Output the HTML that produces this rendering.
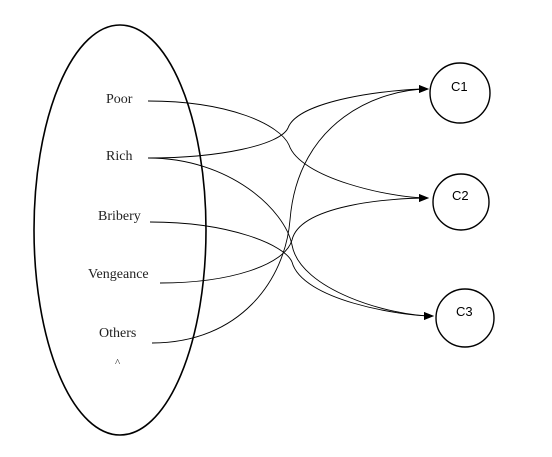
<!DOCTYPE html>
<html><head><style>
html,body{margin:0;padding:0;background:#fff;width:552px;height:457px;overflow:hidden}
</style></head><body>
<svg width="552" height="457" viewBox="0 0 552 457" xmlns="http://www.w3.org/2000/svg">
<defs><marker id="a" markerWidth="10" markerHeight="8" refX="9" refY="4" orient="auto" markerUnits="userSpaceOnUse"><path d="M0,0 L10,4 L0,8 Z" fill="#000"/></marker></defs>
<ellipse cx="120" cy="230" rx="86" ry="205" fill="none" stroke="#000" stroke-width="1.6"/>
<g font-family="Liberation Serif, serif" font-size="14" fill="#222">
<text x="106" y="103">Poor</text>
<text x="106" y="160">Rich</text>
<text x="98" y="220">Bribery</text>
<text x="88" y="278">Vengeance</text>
<text x="99" y="337">Others</text>
<text x="115" y="366" font-size="11">^</text>
</g>
<g fill="none" stroke="#000" stroke-width="1.4">
<circle cx="460" cy="93" r="30"/>
<circle cx="461" cy="202" r="28"/>
<circle cx="465" cy="318" r="29"/>
</g>
<g font-family="Liberation Sans, sans-serif" font-size="13" fill="#000">
<text x="451" y="91">C1</text>
<text x="452" y="200">C2</text>
<text x="456" y="316">C3</text>
</g>
<g fill="none" stroke="#000" stroke-width="0.9">
<path d="M148,101 C230,101 280,125 289,145 C300,178 390,198 428,198" marker-end="url(#a)"/>
<path d="M148,158 C220,158 280,145 288,128 C298,100 390,89 428,89" marker-end="url(#a)"/>
<path d="M148,158 C230,158 285,210 292,245 C300,290 390,316 433,316" marker-end="url(#a)"/>
<path d="M150,222 C230,222 285,245 292,262 C302,300 400,316 433,316" marker-end="url(#a)"/>
<path d="M160,283 C230,283 285,265 292,240 C300,205 390,198 428,198" marker-end="url(#a)"/>
<path d="M152,343 C240,343 285,280 290,220 C298,120 380,89 428,89" marker-end="url(#a)"/>
</g>
</svg>
</body></html>
